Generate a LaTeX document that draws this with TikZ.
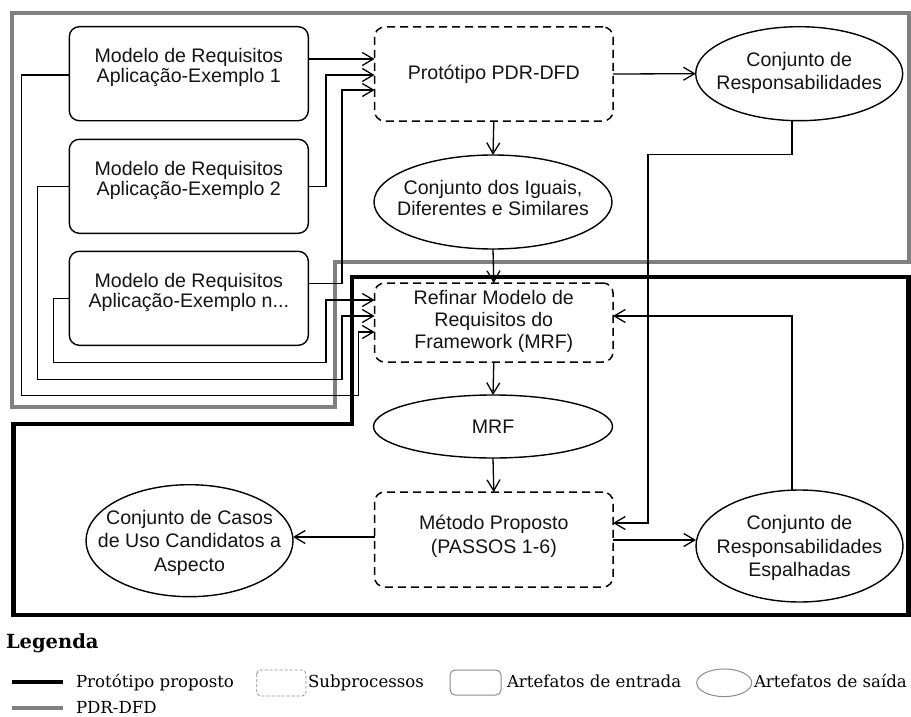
\documentclass[tikz,border=0pt]{standalone}
\usepackage{fontspec}
\setsansfont{Liberation Sans}
\newfontfamily\keyfont{DejaVu Serif}
\usetikzlibrary{arrows.meta,shapes.geometric}

\definecolor{pdrgray}{RGB}{128,128,128}
\definecolor{keygray}{RGB}{140,140,140}

\begin{document}
\begin{tikzpicture}[x=1pt,y=-1pt,
  every node/.style={inner sep=0pt, outer sep=0pt},
  txt/.style={font=\sffamily\fontsize{19.6}{#1}\selectfont, align=center, text=black!92},
  txt/.default=23.5,
  inputbox/.style={draw, line width=1.4pt, rounded corners=10pt,
    minimum width=239pt, minimum height=94pt},
  subproc/.style={draw=black, line width=1.5pt, dash pattern=on 8pt off 5pt,
    rounded corners=10pt, minimum width=238.5pt},
  outset/.style={draw, ellipse, line width=1.4pt},
  conn/.style={line width=1.3pt},
  arr/.style={conn, -{Straight Barb[length=11pt,width=13pt]}},
  keytxt/.style={anchor=base west, font=\keyfont\fontsize{16.6}{20}\selectfont},
]
\useasboundingbox (0,0) rectangle (911,717);

% group outlines: PDR-DFD (gray) and proposed prototype (black)
\draw[pdrgray, line width=4pt]
  (11.7,12.8) -- (908.5,12.8) -- (908.5,262) -- (335.3,262)
  -- (335.3,407.3) -- (11.7,407.3) -- cycle;
\draw[black, line width=4.5pt]
  (352,277) -- (908.3,277) -- (908.3,615) -- (13.3,615)
  -- (13.3,424) -- (352,424) -- cycle;

% input artefacts
\node[inputbox] (b1) at (188.8,73.7) {};
\node[inputbox] (b2) at (188.8,186.3) {};
\node[inputbox] (b3) at (188.8,298.3) {};
\node[txt=20] (b1t) at ([yshift=6pt]b1.center) {Modelo de Requisitos\\Aplicação-Exemplo 1};
\node[txt=20] (b2t) at ([yshift=6pt]b2.center) {Modelo de Requisitos\\Aplicação-Exemplo 2};
\node[txt=20] (b3t) at ([yshift=6pt]b3.center) {Modelo de Requisitos\\Aplicação-Exemplo n...};

% subprocesses
\node[subproc, minimum height=94pt] (proto) at (493.8,74) {};
\node[txt] (protot) at (proto.center) {Protótipo PDR-DFD};
\node[subproc, minimum height=79pt] (refinar) at (493.8,322.5) {};
\node[txt=22] (refinart) at ([yshift=1pt]refinar.center) {Refinar Modelo de\\Requisitos do\\Framework (MRF)};
\node[subproc, minimum height=95pt] (metodo) at (493.8,539.5) {};
\node[txt] (metodot) at ([yshift=3pt]metodo.center) {Método Proposto\\(PASSOS 1-6)};

% output artefacts
\node[outset, minimum width=238pt, minimum height=94pt] (iguais) at (493,202) {};
\node[txt=21.5] (iguaist) at ([yshift=4pt]iguais.center) {Conjunto dos Iguais,\\Diferentes e Similares};
\node[outset, minimum width=207pt, minimum height=94pt] (resp) at (799.2,73.7) {};
\node[txt] (respt) at ([yshift=1pt]resp.center) {Conjunto de\\Responsabilidades};
\node[outset, minimum width=239pt, minimum height=63pt] (mrf) at (493,426.5) {};
\node[txt] (mrft) at (mrf.center) {MRF};
\node[outset, minimum width=207pt, minimum height=112pt] (casos) at (189.5,540.7) {};
\node[txt] (casost) at ([yshift=-2pt]casos.center) {Conjunto de Casos\\de Uso Candidatos a\\Aspecto};
\node[outset, minimum width=207pt, minimum height=112pt] (espalh) at (799.5,546) {};
\node[txt] (espalht) at ([yshift=-2pt]espalh.center) {Conjunto de\\Responsabilidades\\Espalhadas};

% flows into the PDR-DFD prototype
\draw[arr] (b1.east |- 0,59) -- (proto.west |- 0,59);
\draw[arr] (b2.east) -| (326,75) -- (proto.west |- 0,75);
\draw[arr] (b3.east |- 0,283.3) -| (342,90) -- (proto.west |- 0,90);

% flows into the refinement step
\draw[arr] (b3.west) -| (53.3,362.7) -| (326,300) -- (refinar.west |- 0,300);
\draw[arr] (b2.west) -| (37.7,379.3) -| (342,316) -- (refinar.west |- 0,316);
\draw[arr] (b1.west |- 0,75) -| (21.7,395.3) -| (358.3,332) -- (refinar.west |- 0,332);

% main chain
\draw[arr] (proto.south) -- (iguais.north);
\draw[arr] (proto.east) -- (resp.west);
\draw[arr] (iguais.south) -- (refinar.north);
\draw[arr] (refinar.south) -- (mrf.north);
\draw[arr] (mrf.south) -- (metodo.north);
\draw[arr] (metodo.west |- 0,537) -- (casos.east |- 0,537);
\draw[arr] (metodo.east |- 0,540) -- (espalh.west |- 0,540);
\draw[arr] (espalh.north -| 792,0) |- (refinar.east |- 0,316);
\draw[arr] (resp.south -| 792,0) |- (648,154.3) |- (metodo.east |- 0,523);

% legend
\node[anchor=base west, font=\keyfont\bfseries\fontsize{19.5}{22}\selectfont] (legtitle) at (6,648.3) {Legenda};
\draw[black, line width=4.5pt] (11.7,682) -- (63.3,682);
\node[keytxt] (k1) at (76,687.3) {Protótipo proposto};
\draw[keygray, line width=0.8pt, dash pattern=on 3pt off 2pt, rounded corners=4pt]
  (256.7,670) rectangle (306,696);
\node[keytxt] (k2) at (308,687.3) {Subprocessos};
\draw[keygray, line width=1pt, rounded corners=5pt] (450,670) rectangle (501,695);
\node[keytxt] (k3) at (507,687.3) {Artefatos de entrada};
\draw[keygray, line width=1pt] (724.2,682.8) ellipse [x radius=27.5pt, y radius=13.8pt];
\node[keytxt] (k4) at (754,687.3) {Artefatos de saída};
\draw[pdrgray, line width=4.5pt] (11.7,708) -- (63.3,708);
\node[keytxt] (k5) at (76,713.5) {PDR-DFD};
\end{tikzpicture}
\end{document}
